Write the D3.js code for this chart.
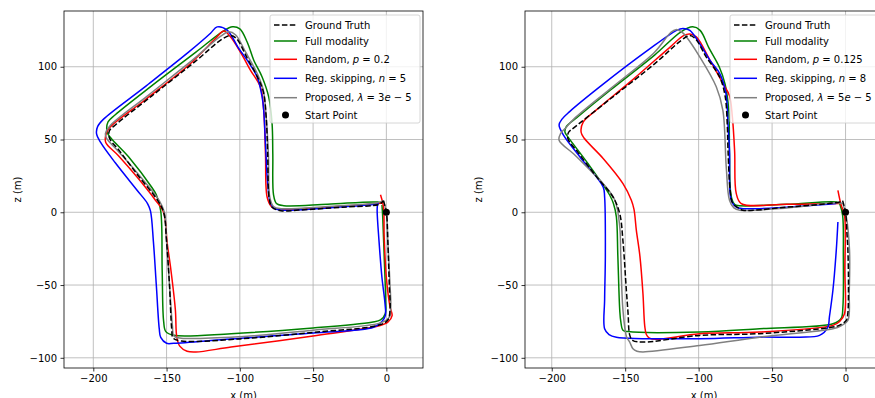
<!DOCTYPE html>
<html>
<head>
<meta charset="utf-8">
<script src="https://cdn.jsdelivr.net/npm/d3@7"></script>
<style>
  body { margin: 0; background: #fff; }
  svg { font-family: "DejaVu Sans", sans-serif; }
</style>
</head>
<body>
<svg id="chart" width="875" height="398"></svg>
<script>
// ---- data (x, z in metres) ----
const xTicks = [-200, -150, -100, -50, 0];
const zTicks = [-100, -50, 0, 50, 100];
const startPoint = [0, 0];

// left panel
const gtA = [[-2,8],[0,0],[1,-20],[2,-50],[2.5,-67],[1,-74],[-5,-77.5],[-50,-82.5],[-100,-87],[-140,-88.5],[-145.5,-86.5],[-146.5,-80],[-148,-50],[-150,-20],[-152,0],[-156,8],[-170,26],[-182,42],[-189,51],[-189,56],[-185,60],[-160,80],[-130,104],[-112,119],[-106,121.5],[-102,119],[-95,106],[-88,93],[-84,83],[-82,65],[-81,40],[-80,10],[-78,3.5],[-72,1],[-60,1.5],[-30,3.5],[-5,5.5],[-2,8]];
const fullA = [[-3,5],[-2.5,-3],[-1.5,-30],[-0.5,-60],[-0.7,-69.5],[-4,-74],[-10,-75.5],[-50,-79.5],[-106,-83.4],[-145,-84.5],[-150.5,-82],[-152,-75],[-153,-40],[-154,1],[-157,12],[-160,17],[-175,37],[-188,51],[-190.5,55],[-190,62],[-185,67],[-160,87],[-130,110],[-112,124],[-105,127.5],[-100,126],[-95,117],[-90.5,104.5],[-84.8,93],[-80.3,79.3],[-78,61],[-77.5,40],[-77,12],[-75,6],[-70,4.5],[-40,5.5],[-6,7],[-3,6]];
const randA = [[-4,12],[-2,4],[-1.5,-17],[0,-45],[2.5,-65],[3.9,-71],[1,-75.5],[-5,-78],[-50,-85],[-106,-92.6],[-130,-96],[-136,-95.5],[-141,-92],[-143,-86],[-144,-67],[-147,-40],[-149.6,-21],[-152,0],[-157.6,8.3],[-170,24],[-183,39],[-191.5,48],[-191.5,53],[-189,58],[-165,77],[-135,101],[-116,120],[-111,124.5],[-106.4,120.6],[-99,109],[-92.8,97.7],[-86,86.2],[-83.7,70],[-82.5,40],[-81.4,10.5],[-78.5,4],[-75.7,2.5],[-70,2],[-40,3.5],[-6,6],[-3,6.5]];
const regA = [[-6,6],[-6.3,1.4],[-5,-20],[-3,-45],[-1,-62],[-0.7,-71],[-3,-75],[-8.7,-79],[-50,-83],[-106,-87],[-145,-90],[-150,-90],[-154,-86],[-155,-80],[-157,-50],[-159,-20],[-161,1],[-163,6],[-170,15],[-185,34],[-195,48],[-197.8,54],[-197,59],[-193,64],[-165,86],[-135,110],[-120,123],[-115.5,127.4],[-108.7,125.2],[-101,113],[-95,104.5],[-88.2,93],[-84.8,79.3],[-83.7,70],[-82.5,47],[-81,20],[-79,6],[-76,2.5],[-72,1.5],[-40,3],[-8,5.5],[-5,6]];
const propA = [[-2,8],[0,0],[1,-20],[2.5,-50],[3,-65],[2,-72],[-4,-76],[-50,-81],[-100,-85.5],[-140,-86.5],[-145,-85],[-146,-78],[-148,-50],[-150,-20],[-151.5,0],[-155,8],[-170,27],[-183,42],[-191,51],[-191.7,54],[-189,59],[-163,80],[-133,104],[-113,121],[-107.5,124],[-103,122],[-96,110],[-88,95],[-84,84],[-82,65],[-80.5,40],[-79.5,10],[-77,4],[-72,2.5],[-40,4],[-6,6.5],[-2,8]];

// right panel
const gtB = [[-2,8],[0,0],[1,-15],[1.6,-26],[2,-50],[1.5,-70],[0.5,-74.3],[-4,-77.5],[-8.6,-78.9],[-58.5,-83.4],[-99.3,-84.6],[-137.9,-89.2],[-145,-88],[-147,-84],[-148,-70],[-149.2,-53.6],[-151.5,-20],[-153.7,-1],[-158.3,10.5],[-170,25],[-182,41],[-189,50.7],[-188.5,55],[-185,58],[-160,78],[-130,102],[-112,118],[-106,121.5],[-102,119],[-95,107],[-85.7,93],[-82,80],[-80.5,60],[-80,42.6],[-78.5,15],[-76.7,6],[-72,2.5],[-69.9,1.4],[-40,3.5],[-4.1,7.1],[-2,8]];
const fullB = [[-4,6],[-2,-2],[-1.5,-30],[-1.8,-65],[-3,-73],[-8.6,-76.6],[-58.5,-80],[-99.3,-82.3],[-148,-82],[-151.5,-81],[-153,-75],[-153.7,-67.4],[-155,-30],[-156,-3.2],[-158,6],[-160.5,11.7],[-175,33],[-189,51.8],[-191,55],[-190,59],[-183,65],[-160,84],[-130,108],[-112,124],[-104,127.4],[-99,125],[-93,113],[-86,100],[-82,88],[-79.5,70],[-79,40],[-78,12],[-76,6],[-74.4,4.8],[-40,5.5],[-6.3,7.1],[-4,6]];
const randB = [[-5.2,15.1],[-3,5],[-0.7,-2],[-0.5,-40],[-0.7,-69.7],[-4,-75],[-8.6,-77.7],[-58.5,-82.3],[-99.3,-83.5],[-129,-87.3],[-133.5,-86.5],[-135.6,-84],[-136.7,-78],[-137.9,-56],[-140,-30],[-142.4,-12.4],[-144,2],[-145.8,8.3],[-151.5,19.7],[-165,37],[-178,51],[-180,55],[-178.6,62],[-170,70],[-145,91],[-120,113],[-110,121.5],[-106,122.5],[-101.6,120.6],[-92,104],[-83.5,88.5],[-79,80],[-77,65],[-75.5,42],[-74.4,13],[-71,6],[-40,5.5],[-6.3,6],[-4,6]];
const regB = [[-5.2,-6.7],[-6.3,-26],[-8.6,-53.6],[-11,-72],[-12,-78.9],[-17.7,-84.6],[-31.3,-85.8],[-58.5,-85.8],[-99.3,-86.9],[-156,-85.8],[-161,-84],[-164,-80],[-164,-60],[-163.5,-30],[-164,10.5],[-165,17.4],[-180,37],[-192,53],[-195,60],[-193,64],[-188,69],[-165,88],[-135,111],[-115,125],[-110.7,126.3],[-106,125],[-100,117],[-92,104],[-85.7,95.4],[-81.5,82],[-80,60],[-79,42.6],[-77.8,8.3],[-74.4,3.6],[-69.9,2.5],[-40,3.5],[-6.3,6]];
const propB = [[-1.8,6],[0.5,-3],[2.7,-26],[2.5,-55],[1.6,-74.3],[-3,-78],[-8.6,-80],[-58.5,-85.8],[-99.3,-91.5],[-137.9,-96],[-142,-95.5],[-144.7,-93.8],[-147,-89],[-149,-85.8],[-151.5,-67.4],[-153,-30],[-153.7,-10],[-157,8.3],[-165,19.7],[-174,29],[-185,40],[-195,49.5],[-194,54],[-190,58.5],[-185,64],[-160,85],[-130,110],[-119,123.5],[-115.5,125.5],[-111,123.5],[-108.4,120.6],[-100,108],[-88,86.2],[-83.5,70],[-81.2,31],[-79,8.3],[-76,3],[-72,1.4],[-40,3],[-6,6.5],[-1.8,6]];

const legendLabelsA = ["Ground Truth", "Full modality", ["Random, ", ["p", true], " = 0.2"], ["Reg. skipping, ", ["n", true], " = 5"], ["Proposed, ", ["λ", true], " = 3", ["e", true], " − 5"], "Start Point"];
const legendLabelsB = ["Ground Truth", "Full modality", ["Random, ", ["p", true], " = 0.125"], ["Reg. skipping, ", ["n", true], " = 8"], ["Proposed, ", ["λ", true], " = 5", ["e", true], " − 5"], "Start Point"];

// ---- styles ----
const seriesStyle = [
  { color: '#000000', dash: '5.5,2.4' },
  { color: '#008000', dash: null },
  { color: '#ff0000', dash: null },
  { color: '#0000ff', dash: null },
  { color: '#808080', dash: null }
];

const svg = d3.select('#chart');

const panels = [
  { series: [gtA, fullA, randA, regA, propA], labels: legendLabelsA,
    left: 64, right: 423, xDomain: [-220, 25], legendX: 270, legendW: 150 },
  { series: [gtB, fullB, randB, regB, propB], labels: legendLabelsB,
    left: 525, right: 883, xDomain: [-218.2, 25.5], legendX: 730, legendW: 150 }
];
const plotTop = 11, plotBottom = 368;
const legendRowY = [25, 41, 59.3, 78.3, 97.7, 115];

panels.forEach((p, pi) => {
  const x = d3.scaleLinear().domain(p.xDomain).range([p.left, p.right]);
  const y = d3.scaleLinear().domain([-107, 138.3]).range([plotBottom, plotTop]);
  const g = svg.append('g');

  const clipId = 'clip' + pi;
  g.append('clipPath').attr('id', clipId).append('rect')
    .attr('x', p.left).attr('y', plotTop).attr('width', p.right - p.left).attr('height', plotBottom - plotTop);

  // grid
  g.append('g').selectAll('line').data(xTicks).enter().append('line')
    .attr('x1', d => x(d)).attr('x2', d => x(d)).attr('y1', plotTop).attr('y2', plotBottom)
    .attr('stroke', '#b0b0b0').attr('stroke-width', 0.8);
  g.append('g').selectAll('line').data(zTicks).enter().append('line')
    .attr('y1', d => y(d)).attr('y2', d => y(d)).attr('x1', p.left).attr('x2', p.right)
    .attr('stroke', '#b0b0b0').attr('stroke-width', 0.8);

  // trajectories
  const line = d3.line()
    .x(d => x(d[0])).y(d => y(d[1]))
    .curve(d3.curveCatmullRom.alpha(0.5));
  const order = [1, 2, 3, 4, 0];
  order.forEach(i => {
    g.append('path')
      .datum(p.series[i])
      .attr('d', line)
      .attr('fill', 'none')
      .attr('clip-path', `url(#${clipId})`)
      .attr('stroke', seriesStyle[i].color)
      .attr('stroke-width', 1.5)
      .attr('stroke-dasharray', seriesStyle[i].dash)
      .attr('stroke-linejoin', 'round');
  });

  g.append('circle')
    .attr('cx', x(startPoint[0])).attr('cy', y(startPoint[1])).attr('r', 3.5)
    .attr('fill', '#000');

  // axes
  const xAxis = d3.axisBottom(x).tickValues(xTicks).tickSize(3.5).tickPadding(3.5)
    .tickFormat(d => d < 0 ? '−' + Math.abs(d) : d);
  const yAxis = d3.axisLeft(y).tickValues(zTicks).tickSize(3.5).tickPadding(3.5)
    .tickFormat(d => d < 0 ? '−' + Math.abs(d) : d);
  const gx = g.append('g').attr('transform', `translate(0,${plotBottom})`).call(xAxis);
  const gy = g.append('g').attr('transform', `translate(${p.left},0)`).call(yAxis);
  [gx, gy].forEach(a => {
    a.select('.domain').remove();
    a.selectAll('text').attr('font-size', 10).attr('fill', '#000').attr('font-family', 'DejaVu Sans');
    a.selectAll('line').attr('stroke', '#000').attr('stroke-width', 0.8);
  });

  // frame
  g.append('rect')
    .attr('x', p.left).attr('y', plotTop).attr('width', p.right - p.left).attr('height', plotBottom - plotTop)
    .attr('fill', 'none').attr('stroke', '#000').attr('stroke-width', 0.8);

  // axis labels
  g.append('text')
    .attr('x', (p.left + p.right) / 2).attr('y', 399)
    .attr('text-anchor', 'middle').attr('font-size', 10).text('x (m)');
  g.append('text')
    .attr('transform', `translate(${p.left - 43},${(plotTop + plotBottom) / 2}) rotate(-90)`)
    .attr('text-anchor', 'middle').attr('font-size', 10).text('z (m)');

  // legend
  const lg = g.append('g');
  lg.append('rect')
    .attr('x', p.legendX).attr('y', 15).attr('width', p.legendW).attr('height', 108)
    .attr('rx', 2).attr('fill', '#fff').attr('fill-opacity', 0.8)
    .attr('stroke', '#cccccc').attr('stroke-width', 0.8);
  p.labels.forEach((lab, i) => {
    const ly = legendRowY[i];
    const hx = p.legendX + 4;
    if (i < 5) {
      lg.append('line')
        .attr('x1', hx).attr('x2', hx + 23).attr('y1', ly).attr('y2', ly)
        .attr('stroke', seriesStyle[i].color).attr('stroke-width', 1.5)
        .attr('stroke-dasharray', seriesStyle[i].dash);
    } else {
      lg.append('circle').attr('cx', hx + 11.5).attr('cy', ly).attr('r', 3.5).attr('fill', '#000');
    }
    const t = lg.append('text')
      .attr('x', hx + 31).attr('y', ly).attr('dy', '0.35em').attr('font-size', 10);
    if (typeof lab === 'string') {
      t.text(lab);
    } else {
      lab.forEach(part => {
        if (typeof part === 'string') t.append('tspan').text(part);
        else t.append('tspan').attr('font-style', 'italic').text(part[0]);
      });
    }
  });
});
</script>
</body>
</html>
